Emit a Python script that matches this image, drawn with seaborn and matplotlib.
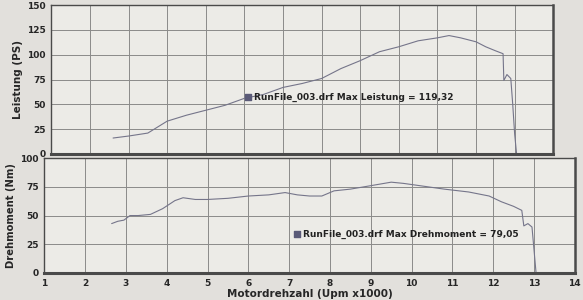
import matplotlib
matplotlib.use("Agg")
import matplotlib.pyplot as plt
import seaborn as sns
import pandas as pd
from matplotlib.ticker import MultipleLocator

# ---- data ----
rpm_power = [2.6, 3.0, 3.5, 4.0, 4.5, 5.0, 5.5, 6.0, 6.5, 7.0, 7.5, 8.0, 8.2, 8.5,
             9.0, 9.5, 10.0, 10.5, 11.0, 11.3, 11.6, 12.0, 12.25, 12.5, 12.7,
             12.72, 12.8, 12.9, 12.95, 13.0, 13.05]
power_ps = [16, 18, 21, 33, 39, 44, 49, 56, 60, 67, 71, 76, 80, 86,
            94, 103, 108, 114, 117, 119.3, 117, 113, 108, 104, 101,
            74, 80, 76, 50, 20, 0]

rpm_torque = [2.65, 2.8, 2.95, 3.1, 3.3, 3.6, 3.9, 4.2, 4.4, 4.7, 5.0, 5.5, 6.0,
              6.5, 6.9, 7.2, 7.5, 7.8, 8.1, 8.5, 9.0, 9.5, 9.8, 10.2, 10.8, 11.4,
              11.9, 12.2, 12.5, 12.7, 12.75, 12.85, 12.95, 13.0, 13.05]
torque_nm = [43, 45, 46, 50, 50, 51, 56, 63, 65.5, 64, 64, 65, 67,
             68, 70, 68, 67, 67, 71.5, 73, 76, 79.05, 78, 76, 73, 70.5,
             67, 62, 58, 54.5, 41, 43, 40, 20, 0]

x_ticks = list(range(1, 15))
power_ticks = [0, 25, 50, 75, 100, 125, 150]
torque_ticks = [0, 25, 50, 75, 100]

label_power = "RunFile_003.drf Max Leistung = 119,32"
label_torque = "RunFile_003.drf Max Drehmoment = 79,05"

df_p = pd.DataFrame({"rpm": rpm_power, "ps": power_ps})
df_t = pd.DataFrame({"rpm": rpm_torque, "nm": torque_nm})

sns.set_theme(style="white")
plt.rcParams["font.family"] = ["DejaVu Sans"]

bg = "#e2e0dc"
face = "#ecebe7"
line_c = "#75758a"
grid_c = "#8a8a8a"
spine_c = "#4a4a4a"

fig = plt.figure(figsize=(5.83, 3.0), dpi=100, facecolor=bg)
ax1 = fig.add_axes([0.088, 0.487, 0.861, 0.496])
ax2 = fig.add_axes([0.076, 0.09, 0.91, 0.383])

for ax in (ax1, ax2):
    ax.set_facecolor(face)
    ax.set_xlim(1, 14)
    ax.xaxis.set_major_locator(MultipleLocator(1))
    ax.grid(True, color=grid_c, linewidth=0.7)
    for s in ax.spines.values():
        s.set_color(spine_c)
        s.set_linewidth(1.0)
    ax.spines["bottom"].set_linewidth(2.2)
    ax.spines["right"].set_linewidth(1.8)
    ax.tick_params(axis="both", which="major", labelsize=6.5, length=3,
                   color=spine_c, pad=1, direction="out")
    ax.tick_params(axis="both", which="minor", length=2, color=spine_c)

sns.lineplot(data=df_p, x="rpm", y="ps", ax=ax1, color=line_c, linewidth=0.8,
             sort=False, estimator=None)
ax1.set_ylim(0, 150)
ax1.set_yticks(power_ticks)
ax1.yaxis.set_minor_locator(MultipleLocator(5))
ax1.xaxis.set_minor_locator(MultipleLocator(0.2))
ax1.set_xticks(x_ticks)
ax1.set_xticklabels([])
ax1.set_yticklabels([str(v) for v in power_ticks], fontsize=6.5, fontweight="bold")
ax1.set_xlabel("")
ax1.set_ylabel("Leistung (PS)", fontsize=7.5, fontweight="bold", labelpad=3)

sns.lineplot(data=df_t, x="rpm", y="nm", ax=ax2, color=line_c, linewidth=0.8,
             sort=False, estimator=None)
ax2.set_ylim(0, 100)
ax2.set_yticks(torque_ticks)
ax2.yaxis.set_minor_locator(MultipleLocator(5))
ax2.xaxis.set_minor_locator(MultipleLocator(0.2))
ax2.set_xticks(x_ticks)
ax2.set_xticklabels([str(v) for v in x_ticks], fontsize=6.5, fontweight="bold")
ax2.set_yticklabels([str(v) for v in torque_ticks], fontsize=6.5, fontweight="bold")
ax2.set_xlabel("Motordrehzahl (Upm x1000)", fontsize=7.5, fontweight="bold", labelpad=1)
ax2.set_ylabel("Drehmoment (Nm)", fontsize=7.2, fontweight="bold", labelpad=3)

# legend-like annotations
ax1.scatter([6.1], [57], marker="s", s=14, color="#5a5a78", zorder=5)
ax1.text(6.25, 57, label_power, fontsize=6.5, fontweight="bold",
         va="center", ha="left", color="#222222")
ax2.scatter([7.2], [34], marker="s", s=14, color="#5a5a78", zorder=5)
ax2.text(7.35, 34, label_torque, fontsize=6.5, fontweight="bold",
         va="center", ha="left", color="#222222")

fig.savefig("out.png", dpi=100, facecolor=bg)
